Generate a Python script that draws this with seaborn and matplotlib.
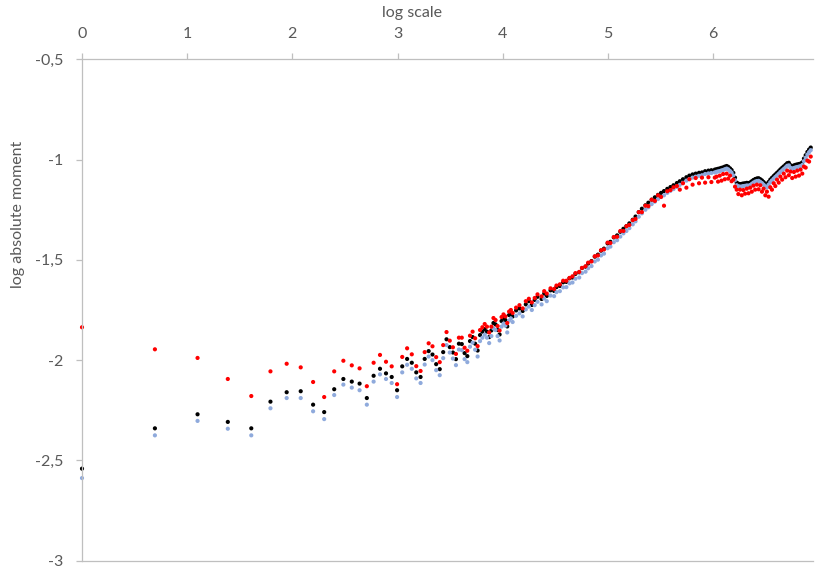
import numpy as np
import pandas as pd
import matplotlib
matplotlib.use("Agg")
import matplotlib.pyplot as plt
import seaborn as sns

# scales (x is drawn as the natural log of the scale)
scale = list(range(1, 61)) + [
    62, 64, 66, 68, 70, 72, 74, 76,
    79, 81, 83, 86, 89, 91, 94, 97,
    100, 103, 106, 109, 113, 116, 120, 123,
    127, 131, 135, 139, 143, 148, 152, 157,
    162, 167, 172, 177, 182, 188, 193, 199,
    205, 212, 218, 225, 232, 239, 246, 253,
    261, 269, 277, 286, 294, 303, 313, 322,
    332, 342, 353, 363, 374, 386, 397, 410,
    417, 423, 430, 437, 444, 451, 459, 466,
    474, 481, 489, 497, 505, 513, 521, 530,
    538, 547, 556, 565, 574, 583, 592, 602,
    612, 622, 632, 642, 652, 663, 673, 684,
    695, 706, 718, 729, 741, 753, 765, 778,
    790, 803, 816, 829, 842, 856, 870, 884,
    898, 913, 927, 942, 957, 973, 989, 1005,
    1021,
]

black_series = [
    -2.541, -2.340, -2.270, -2.308, -2.340, -2.207, -2.160, -2.155, -2.222, -2.259,
    -2.145, -2.094, -2.107, -2.117, -2.189, -2.078, -2.043, -2.066, -2.084, -2.150,
    -2.031, -1.994, -2.013, -2.061, -2.084, -1.994, -1.955, -1.972, -2.020, -2.045,
    -1.960, -1.896, -1.935, -1.962, -1.995, -1.918, -1.920, -1.965, -1.980, -1.905,
    -1.885, -1.918, -1.952, -1.875, -1.858, -1.845, -1.858, -1.885, -1.852, -1.815,
    -1.822, -1.850, -1.872, -1.805, -1.790, -1.800, -1.832, -1.775, -1.765, -1.782,
    -1.752, -1.742, -1.755, -1.722, -1.706, -1.725, -1.700, -1.684,
    -1.695, -1.668, -1.680, -1.652, -1.655, -1.636, -1.630, -1.612,
    -1.610, -1.592, -1.588, -1.570, -1.562, -1.541, -1.534, -1.518,
    -1.506, -1.484, -1.474, -1.454, -1.444, -1.418, -1.410, -1.388,
    -1.378, -1.360, -1.345, -1.332, -1.318, -1.300, -1.284, -1.262,
    -1.245, -1.228, -1.215, -1.200, -1.188, -1.176, -1.166, -1.157,
    -1.146, -1.137, -1.128, -1.117, -1.108, -1.098, -1.088, -1.080,
    -1.074, -1.070, -1.066, -1.064, -1.058, -1.055, -1.053, -1.050,
    -1.048, -1.046, -1.044, -1.041, -1.039, -1.035, -1.032, -1.036,
    -1.044, -1.052, -1.066, -1.090, -1.115, -1.120, -1.122, -1.121,
    -1.119, -1.118, -1.116, -1.117, -1.114, -1.108, -1.102, -1.097,
    -1.094, -1.093, -1.098, -1.104, -1.112, -1.120, -1.126, -1.112,
    -1.100, -1.091, -1.082, -1.074, -1.066, -1.058, -1.049, -1.041,
    -1.034, -1.026, -1.018, -1.016, -1.028, -1.032, -1.029, -1.026,
    -1.024, -1.022, -1.020, -1.014, -0.995, -0.978, -0.962, -0.950,
    -0.940,
]

blue_series = [
    -2.588, -2.375, -2.303, -2.342, -2.375, -2.240, -2.189, -2.189, -2.255, -2.294,
    -2.174, -2.122, -2.137, -2.150, -2.222, -2.107, -2.071, -2.094, -2.114, -2.184,
    -2.061, -2.023, -2.043, -2.091, -2.114, -2.022, -1.982, -2.000, -2.050, -2.075,
    -1.990, -1.925, -1.962, -1.992, -2.025, -1.947, -1.950, -1.995, -2.010, -1.933,
    -1.913, -1.948, -1.982, -1.905, -1.888, -1.873, -1.888, -1.915, -1.880, -1.842,
    -1.850, -1.880, -1.902, -1.833, -1.818, -1.828, -1.862, -1.803, -1.792, -1.810,
    -1.779, -1.767, -1.782, -1.747, -1.733, -1.750, -1.726, -1.709,
    -1.722, -1.693, -1.706, -1.678, -1.681, -1.661, -1.656, -1.637,
    -1.636, -1.617, -1.613, -1.594, -1.588, -1.566, -1.559, -1.542,
    -1.531, -1.508, -1.499, -1.478, -1.469, -1.442, -1.434, -1.412,
    -1.402, -1.384, -1.368, -1.356, -1.342, -1.323, -1.308, -1.285,
    -1.268, -1.250, -1.238, -1.222, -1.210, -1.197, -1.187, -1.178,
    -1.166, -1.156, -1.147, -1.136, -1.126, -1.116, -1.105, -1.097,
    -1.090, -1.085, -1.081, -1.078, -1.072, -1.069, -1.067, -1.064,
    -1.061, -1.059, -1.057, -1.054, -1.052, -1.048, -1.045, -1.049,
    -1.057, -1.065, -1.079, -1.103, -1.128, -1.133, -1.135, -1.134,
    -1.132, -1.131, -1.129, -1.130, -1.127, -1.121, -1.115, -1.110,
    -1.107, -1.106, -1.111, -1.117, -1.125, -1.133, -1.139, -1.125,
    -1.113, -1.104, -1.095, -1.087, -1.079, -1.071, -1.062, -1.054,
    -1.047, -1.039, -1.031, -1.029, -1.041, -1.045, -1.042, -1.039,
    -1.037, -1.035, -1.033, -1.027, -1.008, -0.991, -0.975, -0.963,
    -0.953,
]

red_series = [
    -1.836, -1.946, -1.989, -2.094, -2.179, -2.056, -2.018, -2.036, -2.109, -2.184,
    -2.056, -2.003, -2.026, -2.041, -2.130, -2.013, -1.974, -2.008, -2.031, -2.120,
    -1.984, -1.941, -1.971, -2.030, -2.054, -1.960, -1.916, -1.931, -1.985, -2.010,
    -1.925, -1.860, -1.903, -1.936, -1.969, -1.888, -1.888, -1.938, -1.953, -1.878,
    -1.858, -1.891, -1.930, -1.850, -1.836, -1.820, -1.833, -1.862, -1.833, -1.790,
    -1.800, -1.830, -1.852, -1.785, -1.772, -1.782, -1.815, -1.758, -1.750, -1.765,
    -1.738, -1.726, -1.742, -1.706, -1.694, -1.712, -1.690, -1.672,
    -1.682, -1.656, -1.668, -1.642, -1.645, -1.628, -1.622, -1.604,
    -1.604, -1.590, -1.582, -1.566, -1.560, -1.540, -1.532, -1.514,
    -1.508, -1.482, -1.478, -1.452, -1.448, -1.414, -1.416, -1.386,
    -1.385, -1.356, -1.356, -1.332, -1.326, -1.302, -1.296, -1.262,
    -1.262, -1.230, -1.232, -1.200, -1.206, -1.178, -1.186, -1.230,
    -1.158, -1.152, -1.138, -1.132, -1.150, -1.118, -1.140, -1.098,
    -1.125, -1.092, -1.118, -1.090, -1.115, -1.088, -1.112, -1.090,
    -1.085, -1.110, -1.080, -1.105, -1.072, -1.098, -1.070, -1.095,
    -1.080, -1.108, -1.100, -1.135, -1.150, -1.172, -1.150, -1.178,
    -1.152, -1.170, -1.145, -1.168, -1.140, -1.160, -1.130, -1.150,
    -1.125, -1.148, -1.128, -1.160, -1.145, -1.178, -1.160, -1.185,
    -1.138, -1.150, -1.118, -1.132, -1.100, -1.115, -1.085, -1.100,
    -1.070, -1.088, -1.055, -1.078, -1.060, -1.092, -1.062, -1.085,
    -1.055, -1.080, -1.050, -1.070, -1.035, -1.040, -1.005, -1.010,
    -0.985,
]

y_ticks = [-3.0, -2.5, -2.0, -1.5, -1.0, -0.5]
y_tick_labels = ["-3", "-2,5", "-2", "-1,5", "-1", "-0,5"]
x_ticks = [0, 1, 2, 3, 4, 5, 6]

series_colors = {"black": "#000000", "blue": "#8FAADC", "red": "#FF0000"}

frames = []
for name, values in [("black", black_series), ("blue", blue_series), ("red", red_series)]:
    frames.append(pd.DataFrame({
        "log_scale": np.log(np.array(scale, dtype=float)),
        "moment": values,
        "series": name,
    }))
data = pd.concat(frames, ignore_index=True)

sns.set_theme(style="white")
plt.rcParams["font.family"] = ["Lato", "DejaVu Sans"]

text_color = "#595959"
axis_color = "#BFBFBF"

W, H = 815, 570
fig = plt.figure(figsize=(W / 100, H / 100), dpi=100)
ax = fig.add_axes([82 / W, 1 - 560.7 / H, 731 / W, 501.4 / H])

sns.scatterplot(
    data=data, x="log_scale", y="moment", hue="series",
    palette=series_colors, s=9, linewidth=0, marker="o",
    legend=False, ax=ax,
)
for coll in ax.collections:
    coll.set_clip_on(False)

ax.set_xlim(0, 6.95)
ax.set_ylim(-3, -0.5)
ax.xaxis.tick_top()
ax.set_xticks(x_ticks)
ax.set_xticklabels([str(t) for t in x_ticks])
ax.set_yticks(y_ticks)
ax.set_yticklabels(y_tick_labels)
ax.set_xlabel("")
ax.set_ylabel("")

for side in ["top", "left", "bottom"]:
    ax.spines[side].set_color(axis_color)
    ax.spines[side].set_linewidth(0.9)
ax.spines["right"].set_visible(False)

ax.tick_params(axis="x", which="both", top=True, bottom=False, direction="out",
               length=4.2, width=0.9, color=axis_color, labelcolor=text_color,
               labelsize=11.5, pad=9)
ax.tick_params(axis="y", which="both", left=True, direction="out",
               length=4.2, width=0.9, color=axis_color, labelcolor=text_color,
               labelsize=11.5, pad=9)

fig.text(412 / W, 1 - 13 / H, "log scale", ha="center", va="center",
         color=text_color, fontsize=11.5)
fig.text(18 / W, 1 - 214 / H, "log absolute moment", ha="center", va="center",
         rotation=90, color=text_color, fontsize=11.5)

fig.savefig("out.png", dpi=100)
